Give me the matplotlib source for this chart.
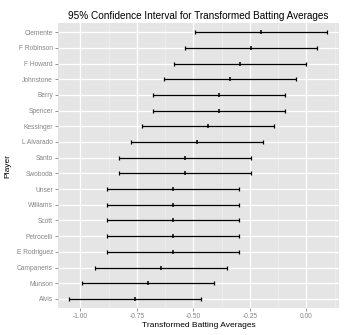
import numpy as np
import matplotlib
matplotlib.use("Agg")
import matplotlib.pyplot as plt

plt.rcParams['font.family'] = ['Liberation Sans', 'DejaVu Sans']

# players from top to bottom
players = ["Clemente", "F Robinson", "F Howard", "Johnstone", "Berry", "Spencer",
           "Kessinger", "L Alvarado", "Santo", "Swoboda", "Unser", "Williams",
           "Scott", "Petrocelli", "E Rodriguez", "Campaneris", "Munson", "Alvis"]
center = [-0.201, -0.247, -0.293, -0.340, -0.387, -0.387,
          -0.436, -0.486, -0.537, -0.537, -0.589, -0.589,
          -0.589, -0.589, -0.589, -0.644, -0.700, -0.760]
lower = [-0.493, -0.539, -0.585, -0.632, -0.679, -0.679,
         -0.728, -0.778, -0.829, -0.829, -0.881, -0.881,
         -0.881, -0.881, -0.881, -0.936, -0.992, -1.052]
upper = [0.091, 0.045, -0.001, -0.048, -0.095, -0.095,
         -0.144, -0.194, -0.245, -0.245, -0.297, -0.297,
         -0.297, -0.297, -0.297, -0.352, -0.408, -0.468]
xticks = [-1.00, -0.75, -0.50, -0.25, 0.00]

fig = plt.figure(figsize=(3.5, 3.35), dpi=100)
ax = fig.add_axes([0.165, 0.0797, 0.804, 0.8525])
ax.set_facecolor('#E5E5E5')

n = len(players)
y = np.arange(n)[::-1]
c = np.array(center)
err = [c - np.array(lower), np.array(upper) - c]
ax.errorbar(c, y, xerr=err, fmt='none', ecolor='black', elinewidth=0.9,
            capsize=1.6, capthick=0.9, zorder=3)
ax.plot(c, y, linestyle='none', marker='|', markersize=2.6, markeredgewidth=1.1,
        color='black', zorder=4)

ax.set_xlim(-1.10, 0.145)
ax.set_ylim(-0.6, n - 0.4)
ax.set_xticks(xticks)
ax.set_xticklabels(['%.2f' % v for v in xticks])
ax.set_xticks([-0.875, -0.625, -0.375, -0.125, 0.125], minor=True)
ax.set_yticks(y)
ax.set_yticklabels(players)

ax.grid(True, which='major', color='white', linewidth=0.9)
ax.grid(True, which='minor', axis='x', color='#F2F2F2', linewidth=0.4)
ax.set_axisbelow(True)
for s in ax.spines.values():
    s.set_visible(False)
ax.tick_params(axis='both', which='major', labelsize=4.8, colors='#666666',
               labelcolor='#858585', length=2, width=0.5, pad=1.5)
ax.tick_params(which='minor', length=0)

ax.set_xlabel('Transformed Batting Averages', fontsize=6, labelpad=1)
ax.set_ylabel('Player', fontsize=6, labelpad=4)
ax.set_title('95% Confidence Interval for Transformed Batting Averages',
             fontsize=7.2, pad=3)

fig.savefig('out.png', dpi=100)
